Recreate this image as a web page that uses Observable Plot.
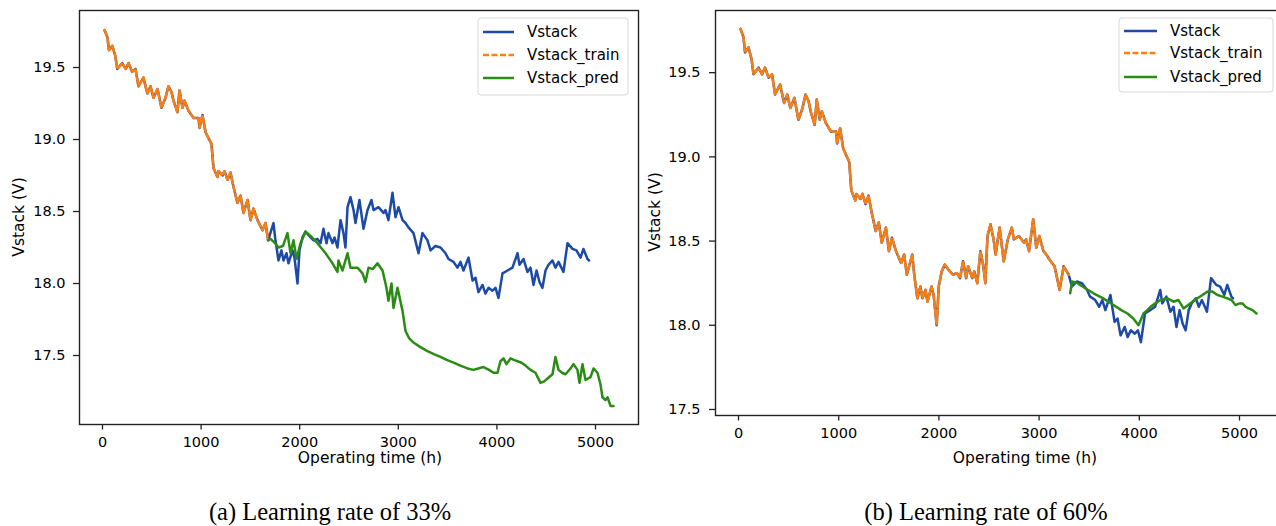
<!DOCTYPE html>
<html><head><meta charset="utf-8">
<script src="https://cdn.jsdelivr.net/npm/d3@7"></script>
<script src="https://cdn.jsdelivr.net/npm/@observablehq/plot@0.6"></script>
<style>
html,body{margin:0;padding:0;background:#fff;overflow:hidden;width:1276px;height:526px}
#wrap{position:relative;width:1276px;height:526px;overflow:hidden}
.panel{position:absolute;top:0}
#overlay{position:absolute;left:0;top:0;pointer-events:none}
</style></head><body><div id="wrap"></div>
<script>
// ---- Measured stack voltage (shared by both panels) ----
const vTime = [20,50,65,100,130,150,200,235,265,300,335,365,415,455,487,517,558,598,639,669,700,720,760,781,811,832,872,923,974,984,1014,1045,1075,1105,1126,1166,1176,1217,1237,1268,1298,1329,1369,1400,1430,1471,1501,1531,1572,1623,1653,1680,1734,1754,1785,1815,1836,1866,1886,1927,1947,1978,1998,2028,2059,2110,2140,2180,2211,2241,2272,2292,2333,2353,2383,2414,2444,2464,2485,2515,2546,2566,2606,2647,2688,2728,2748,2799,2850,2870,2900,2941,2972,3002,3043,3073,3103,3154,3205,3245,3296,3327,3377,3428,3479,3509,3560,3600,3631,3661,3712,3753,3783,3813,3854,3884,3915,3955,3986,4016,4057,4108,4158,4209,4229,4270,4310,4341,4371,4402,4432,4462,4493,4523,4564,4594,4625,4675,4716,4767,4807,4848,4878,4919,4935];
const vVolt = [19.76,19.71,19.62,19.65,19.58,19.49,19.53,19.49,19.53,19.47,19.49,19.37,19.43,19.32,19.37,19.29,19.35,19.22,19.29,19.37,19.33,19.27,19.19,19.34,19.22,19.27,19.20,19.15,19.15,19.08,19.17,19.05,19.01,18.97,18.80,18.74,18.78,18.75,18.78,18.72,18.77,18.67,18.56,18.61,18.49,18.58,18.44,18.52,18.44,18.37,18.42,18.30,18.42,18.30,18.16,18.23,18.16,18.21,18.14,18.23,18.18,18.00,18.23,18.32,18.36,18.32,18.30,18.31,18.28,18.38,18.28,18.35,18.28,18.32,18.25,18.44,18.35,18.25,18.53,18.60,18.51,18.42,18.58,18.38,18.51,18.58,18.51,18.53,18.49,18.51,18.44,18.63,18.46,18.53,18.44,18.42,18.39,18.35,18.21,18.35,18.30,18.23,18.26,18.25,18.21,18.17,18.15,18.11,18.15,18.09,18.18,18.02,18.04,17.94,17.99,17.93,17.97,17.95,17.97,17.90,18.07,18.09,18.11,18.21,18.13,18.17,18.08,18.11,17.99,18.09,18.01,17.97,18.09,18.13,18.16,18.11,18.15,18.08,18.28,18.24,18.23,18.18,18.24,18.17,18.16];

// ---- Train / prediction split (hours) ----
const trainEndA = 1680;   // (a) 33 %
const trainEndB = 3296;   // (b) 60 %

// ---- Prediction, panel (a) ----
const predATime = [1680,1704,1750,1785,1830,1876,1907,1937,1968,2008,2059,2110,2180,2262,2333,2383,2393,2434,2485,2515,2586,2637,2667,2698,2740,2789,2840,2880,2900,2931,2951,2992,3043,3073,3110,3154,3220,3296,3360,3428,3490,3560,3630,3702,3763,3810,3864,3920,3966,4006,4036,4067,4097,4138,4170,4209,4250,4290,4341,4391,4442,4480,4513,4564,4594,4625,4660,4696,4746,4777,4817,4838,4868,4899,4949,4980,5020,5050,5071,5101,5122,5152,5183];
const predAVolt = [18.30,18.31,18.28,18.25,18.26,18.35,18.21,18.30,18.17,18.28,18.36,18.33,18.28,18.21,18.14,18.08,18.16,18.09,18.21,18.11,18.11,18.07,18.01,18.11,18.10,18.14,18.09,17.97,17.88,18.00,17.83,17.97,17.81,17.67,17.62,17.59,17.56,17.53,17.51,17.49,17.47,17.45,17.43,17.41,17.40,17.41,17.42,17.40,17.38,17.38,17.46,17.48,17.44,17.48,17.47,17.46,17.45,17.43,17.40,17.38,17.31,17.32,17.34,17.37,17.49,17.40,17.38,17.37,17.41,17.44,17.40,17.31,17.44,17.33,17.35,17.41,17.38,17.30,17.21,17.19,17.21,17.15,17.15];

// ---- Prediction, panel (b) ----
const predBTime = [3310,3330,3383,3460,3543,3640,3743,3820,3882,3940,3992,4042,4080,4112,4160,4212,4281,4341,4391,4441,4511,4581,4630,4681,4730,4780,4830,4880,4920,4960,5000,5030,5060,5090,5130,5170];
const predBVolt = [18.19,18.26,18.25,18.22,18.19,18.16,18.12,18.09,18.07,18.04,18.00,18.07,18.09,18.11,18.13,18.15,18.16,18.14,18.15,18.10,18.13,18.16,18.18,18.20,18.20,18.18,18.17,18.16,18.15,18.12,18.13,18.13,18.11,18.10,18.09,18.07];

const xTicks = [0,1000,2000,3000,4000,5000];
const yTicks = [17.5,18.0,18.5,19.0,19.5];
const seriesNames = ["Vstack","Vstack_train","Vstack_pred"];
const captions = ["(a) Learning rate of 33%","(b) Learning rate of 60%"];

const BLUE = "#1c4aa6", ORANGE = "#ff7f0e", GREEN = "#2a8c14";
const FONT = "DejaVu Sans";
const LW = 2.5;

const vstack = vTime.map((t,i)=>({t, v:vVolt[i]}));
const predA = predATime.map((t,i)=>({t, v:predAVolt[i]}));
const predB = predBTime.map((t,i)=>({t, v:predBVolt[i]}));

function makePanel(cfg){
  const train = vstack.filter(d=>d.t<=cfg.trainEnd);
  const chart = Plot.plot({
    width: cfg.w, height: cfg.h,
    marginLeft: cfg.mL, marginRight: cfg.mR, marginTop: cfg.mT, marginBottom: cfg.mB,
    style: {fontFamily: FONT, fontSize: "14.5px", color: "#000", background: "#fff", overflow:"visible"},
    x: {domain: cfg.xDom},
    y: {domain: cfg.yDom},
    marks: [
      Plot.line(vstack, {x:"t", y:"v", stroke: BLUE, strokeWidth: LW}),
      Plot.line(train, {x:"t", y:"v", stroke: ORANGE, strokeWidth: LW, strokeDasharray: "6,2.5"}),
      Plot.line(cfg.pred, {x:"t", y:"v", stroke: GREEN, strokeWidth: LW}),
      Plot.frame({stroke: "#222", strokeWidth: 1.4}),
      Plot.axisX({ticks: xTicks, tickSize: 5.5, tickPadding: 7, tickFormat: d=>String(d), label: null, stroke:"#222", strokeWidth:1.3}),
      Plot.axisY({ticks: yTicks, tickSize: 6, tickPadding: cfg.yPad, tickFormat: d=>d.toFixed(1), label: null, stroke:"#222", strokeWidth:1.3})
    ]
  });
  chart.classList.add("panel");
  chart.style.left = cfg.left + "px";
  const svg = d3.select(chart);
  // axis titles
  svg.append("text").attr("transform", `translate(${cfg.yLabX},${cfg.yLabY}) rotate(-90)`)
    .attr("text-anchor","middle").attr("font-family",FONT).attr("font-size","15.5px").attr("fill","#000").text("Vstack (V)");
  svg.append("text").attr("x", cfg.xLabX).attr("y", cfg.xLabY)
    .attr("text-anchor","middle").attr("font-family",FONT).attr("font-size","15.5px").attr("fill","#000").text("Operating time (h)");
  // legend
  const L = cfg.legend;
  const g = svg.append("g").attr("text-anchor","start");
  g.append("rect").attr("x",L.x).attr("y",L.y).attr("width",L.w).attr("height",L.h).attr("rx",3)
    .attr("fill","#fff").attr("fill-opacity",0.85).attr("stroke","#d8d8d8").attr("stroke-width",1);
  const cols = [BLUE, ORANGE, GREEN];
  seriesNames.forEach((name,i)=>{
    const yy = L.rows[i];
    g.append("line").attr("x1",L.lx1).attr("x2",L.lx2).attr("y1",yy).attr("y2",yy)
      .attr("stroke",cols[i]).attr("stroke-width",LW).attr("stroke-dasharray", i===1 ? "6,2.5" : null);
    g.append("text").attr("x",L.tx).attr("y",yy).attr("dy","0.35em").attr("text-anchor","start").attr("font-family",FONT)
      .attr("font-size","15px").attr("fill","#000").text(name);
  });
  return chart;
}

const wrap = document.getElementById("wrap");

// Panel (a): frame x 79..638, y 10..424
wrap.appendChild(makePanel({
  left: 0, w: 640, h: 480, mL: 79, mR: 2, mT: 10, mB: 56,
  xDom: [(79-102)/0.0986, (638-102)/0.0986],
  yDom: [17.5 - (424-355)/144, 19.5 + (67-10)/144],
  yPad: 8,
  trainEnd: trainEndA, pred: predA,
  yLabX: 24, yLabY: 217, xLabX: 370, xLabY: 463,
  legend: {x:478, y:18, w:150, h:77, rows:[32,55,78], lx1:483, lx2:514, tx:527}
}));

// Panel (b): frame x 715..1283 (cropped), y 10..415
wrap.appendChild(makePanel({
  left: 640, w: 650, h: 480, mL: 75, mR: 7, mT: 10, mB: 65,
  xDom: [(715-738)/0.1002, (1283-738)/0.1002],
  yDom: [17.5 - (415-409)/168, 19.5 + (72-10)/168],
  yPad: 9,
  trainEnd: trainEndB, pred: predB,
  yLabX: 20, yLabY: 212, xLabX: 385, xLabY: 463,
  legend: {x:479, y:18, w:154, h:74, rows:[31,53,77], lx1:484, lx2:517, tx:530}
}));

// captions
const ov = d3.select(wrap).append("svg").attr("id","overlay").attr("width",1276).attr("height",526);
[[330,captions[0]],[986,captions[1]]].forEach(([cx,txt])=>{
  ov.append("text").attr("x",cx).attr("y",520).attr("text-anchor","middle")
    .attr("font-family","Liberation Serif, Times New Roman, serif").attr("font-size","24.5px").attr("fill","#000").text(txt);
});
</script>
</body></html>
